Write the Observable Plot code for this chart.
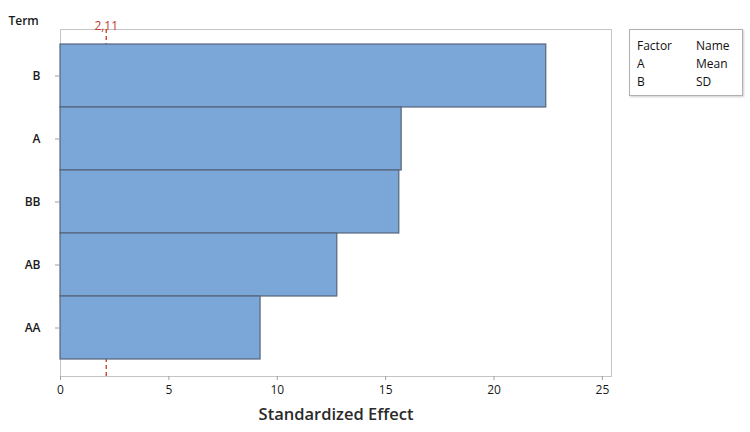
<!DOCTYPE html>
<html><head><meta charset="utf-8">
<script src="https://cdn.jsdelivr.net/npm/d3@7"></script>
<script src="https://cdn.jsdelivr.net/npm/@observablehq/plot@0.6"></script>
<style>
body{margin:0;background:#fff;font-family:"Open Sans","Noto Sans",sans-serif;}
#wrap{position:relative;width:750px;height:432px;overflow:hidden;}
#legend{position:absolute;left:629px;top:29px;width:114px;height:67px;border:1px solid #b0b0b0;box-shadow:1px 1px 2px rgba(0,0,0,0.2);font-size:12px;color:#111;box-sizing:border-box;}
#legend .c{position:absolute;white-space:nowrap;line-height:14px;}
</style>
</head><body>
<div id="wrap"><div id="legend"></div></div>
<script>
const terms = ["B", "A", "BB", "AB", "AA"];
const effects = [22.41, 15.74, 15.63, 12.77, 9.23];
const refValue = 2.11;
const refLabel = "2,11";
const xTicks = [0, 5, 10, 15, 20, 25];
const legendHeader = ["Factor", "Name"];
const factors = ["A", "B"];
const factorNames = ["Mean", "SD"];

const data = terms.map((t, i) => ({term: t, effect: effects[i]}));

const chart = Plot.plot({
  width: 750,
  height: 432,
  marginLeft: 60,
  marginRight: 139,
  marginTop: 29,
  marginBottom: 56,
  style: {fontFamily: '"Open Sans","Noto Sans",sans-serif', fontSize: "12px", background: "#fff"},
  x: {domain: [0, 25.42]},
  y: {domain: terms, range: [44, 359], padding: 0},
  marks: [
    Plot.frame({stroke: "#c4c4c4"}),
    Plot.ruleX([refValue], {stroke: "#c0392b", strokeDasharray: "4,3", strokeWidth: 1.3}),
    Plot.barX(data, {x: "effect", y: "term", fill: "#7BA6D8", stroke: "#56657A", strokeWidth: 1.2}),
    Plot.axisX({ticks: xTicks, tickSize: 4, tickPadding: 5, stroke: "#a0a0a0", color: "#1a1a1a", label: null, fontSize: 12}),
    Plot.axisY({tickSize: 5, tickPadding: 15, stroke: "#a0a0a0", color: "#1a1a1a", label: null, fontWeight: 600, fontSize: 12}),
    Plot.text([refLabel], {x: () => refValue, frameAnchor: "top", dy: -8, fill: "#c0392b", fontSize: 12}),
    Plot.text(["Term"], {frameAnchor: "top-left", dx: -52, dy: -13, textAnchor: "start", fill: "#1a1a1a", fontWeight: 600, fontSize: 12}),
    Plot.text(["Standardized Effect"], {frameAnchor: "bottom", dy: 43, fill: "#2a2a2a", fontSize: 16.5, fontWeight: 600})
  ]
});
document.getElementById("wrap").prepend(chart);

const lg = document.getElementById("legend");
const rows = [legendHeader, ...factors.map((f, i) => [f, factorNames[i]])];
rows.forEach((r, i) => {
  r.forEach((txt, j) => {
    const s = document.createElement("span");
    s.className = "c";
    s.textContent = txt;
    s.style.left = (j === 0 ? 7 : 66) + "px";
    s.style.top = (9 + i * 18) + "px";
    lg.appendChild(s);
  });
});
</script>
</body></html>
